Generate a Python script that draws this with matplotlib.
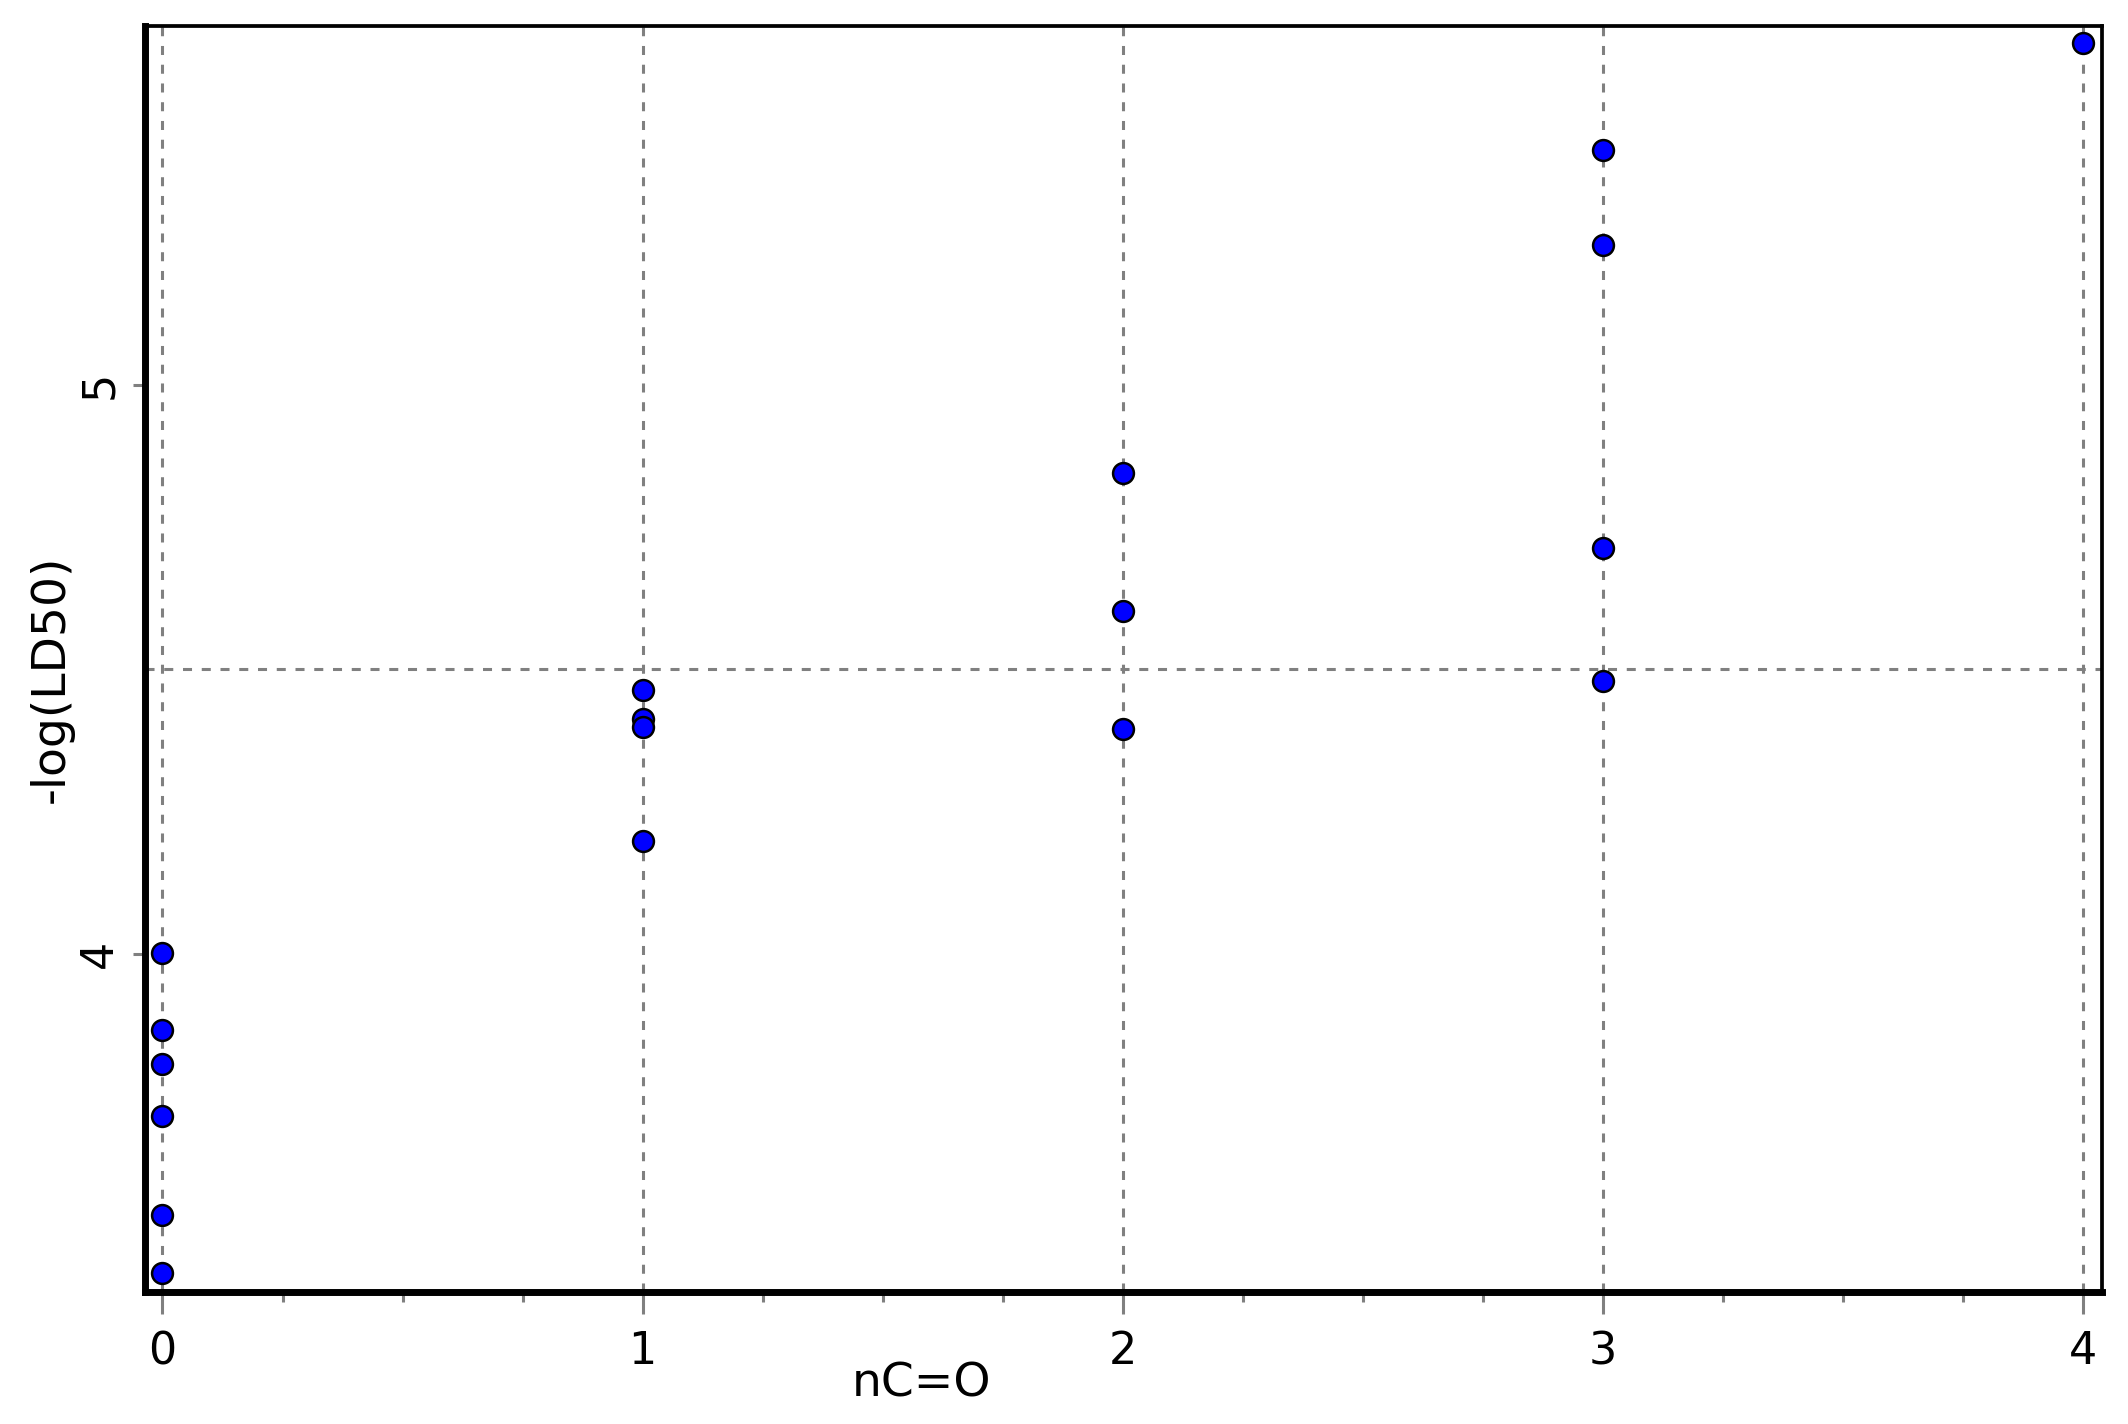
import numpy as np
import matplotlib
matplotlib.use("Agg")
import matplotlib.pyplot as plt

# datos
n_co = [0, 0, 0, 0, 0, 0,
        1, 1, 1, 1,
        2, 2, 2,
        3, 3, 3, 3,
        4]
log_ld50 = [4.002, 3.866, 3.807, 3.714, 3.540, 3.439,
            4.463, 4.413, 4.399, 4.198,
            4.845, 4.602, 4.396,
            5.413, 5.246, 4.714, 4.480,
            5.601]
x_ticks = [0, 1, 2, 3, 4]
y_ticks = [4, 5]
ref_line = 4.5

plt.rcParams['font.family'] = ['DejaVu Sans Condensed', 'DejaVu Sans']
plt.rcParams['lines.scale_dashes'] = False

fig = plt.figure(figsize=(21.28, 14.24), dpi=100)
ax = fig.add_axes([0.068, 0.093, 0.920, 0.889])

# rejilla
for xv in x_ticks:
    ax.axvline(xv, color='#808080', lw=2.2, dashes=(6.5, 7), zorder=1)
ax.axhline(ref_line, color='#808080', lw=2.2, dashes=(6.5, 7), zorder=1)

ax.plot(n_co, log_ld50, 'o', color='#0000ff', markeredgecolor='black',
        markersize=15, markeredgewidth=1.8, zorder=3)

ax.set_xlim(-0.037, 4.04)
ax.set_ylim(3.406, 5.632)

ax.set_xticks(x_ticks)
ax.set_xticks(np.arange(0, 4.01, 0.25), minor=True)
ax.set_yticks(y_ticks)
ax.set_xticklabels([str(v) for v in x_ticks])
ax.set_yticklabels([str(v) for v in y_ticks], rotation=90, va='center')

ax.tick_params(axis='x', which='major', length=16, width=2.2, color='#808080',
               labelsize=32, pad=12)
ax.tick_params(axis='x', which='minor', length=7, width=2.2, color='#808080')
ax.tick_params(axis='y', which='major', length=9, width=2.2, color='#808080',
               labelsize=32, pad=8)

for s in ['left', 'bottom']:
    ax.spines[s].set_linewidth(5)
for s in ['top', 'right']:
    ax.spines[s].set_linewidth(2.7)

ax.set_xlabel('nC=O', fontsize=34)
ax.set_ylabel('-log(LD50)', fontsize=34)
ax.xaxis.set_label_coords(0.397, -0.055)
ax.yaxis.set_label_coords(-0.036, 0.484)

fig.savefig('out.png', dpi=100)
